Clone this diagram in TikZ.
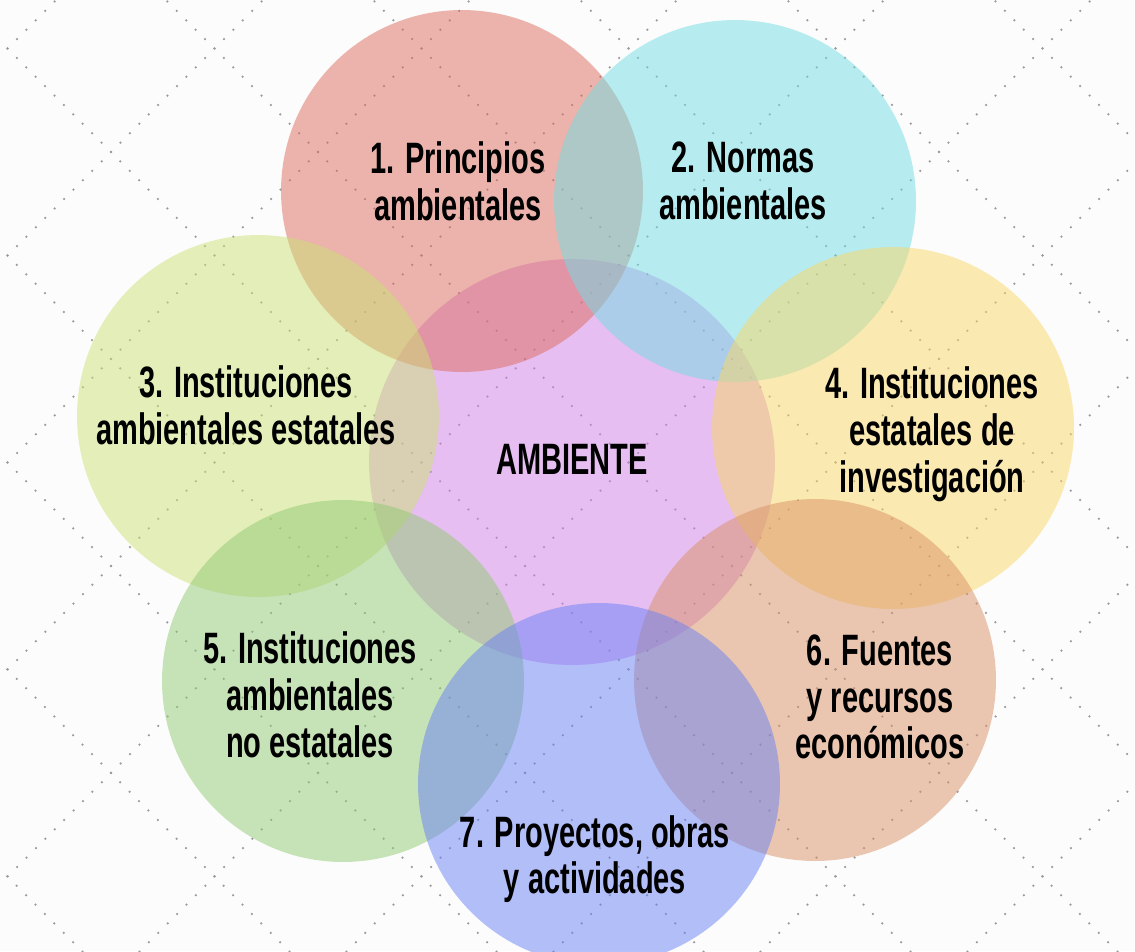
\documentclass[tikz,border=0pt]{standalone}
\usepackage{fontspec}
\newfontfamily\condfont[FakeStretch=0.66]{Liberation Sans}
\definecolor{bgc}{RGB}{252,252,252}
\definecolor{dotc}{RGB}{155,155,155}
\definecolor{cRed}{RGB}{219,107,91}
\definecolor{cCyan}{RGB}{113,221,227}
\definecolor{cYG}{RGB}{205,225,117}
\definecolor{cCen}{RGB}{209,129,231}
\definecolor{cYel}{RGB}{249,215,101}
\definecolor{cGrn}{RGB}{145,201,115}
\definecolor{cSal}{RGB}{217,145,101}
\definecolor{cBlu}{RGB}{105,129,245}
\begin{document}
\begin{tikzpicture}[x=0.02cm,y=-0.02cm,
  dotline/.style={dotc, line width=0.05cm, line cap=round, dash pattern=on 0pt off 0.26613cm},
  disc/.style={circle, draw=none, inner sep=0pt, fill opacity=0.5, minimum size=7.24cm},
  bigdisc/.style={disc, minimum size=8.12cm},
  lab/.style={font={\condfont\bfseries\fontsize{25pt}{26.6pt}\selectfont}, align=center, inner sep=0pt, text=black}]
\useasboundingbox (0,0) rectangle (1135,951);
\begin{scope}
\clip (0,0) rectangle (1135,951);
\fill[bgc] (0,0) rectangle (1135,951);
\foreach \i in {-4,...,5} {
  \pgfmathsetmacro\c{-41+207*\i}
  \draw[dotline] (\c-55,-55) -- (\c+980,980);
}
\foreach \j in {-1,...,8} {
  \pgfmathsetmacro\d{263+207*\j}
  \draw[dotline] (\d+55,-55) -- (\d-980,980);
}
\node[bigdisc, fill=cCen] (c0) at (572,462) {};
\node[disc, fill=cRed] (c1) at (462,191) {};
\node[disc, fill=cCyan] (c2) at (735,201) {};
\node[disc, fill=cYG] (c3) at (258,416) {};
\node[disc, fill=cYel] (c4) at (893,428) {};
\node[disc, fill=cGrn] (c5) at (343,681) {};
\node[disc, fill=cSal] (c6) at (815,680) {};
\node[disc, fill=cBlu] (c7) at (599,784) {};
\end{scope}
\node[lab] (t0) at (572,459) {AMBIENTE};
\node[lab] (t1) at (458,181) {1. Principios\\ambientales};
\node[lab] (t2) at (743,181) {2. Normas\\ambientales};
\node[lab] (t3) at (246,405) {3. Instituciones\\ambientales estatales};
\node[lab] (t4) at (932,434) {4. Instituciones\\estatales de\\investigación};
\node[lab] (t5) at (310,695) {5. Instituciones\\ambientales\\no estatales};
\node[lab] (t6) at (880,697) {6. Fuentes\\y recursos\\económicos};
\node[lab] (t7) at (595,859) {7. Proyectos, obras\\y actividades};
\end{tikzpicture}
\end{document}
